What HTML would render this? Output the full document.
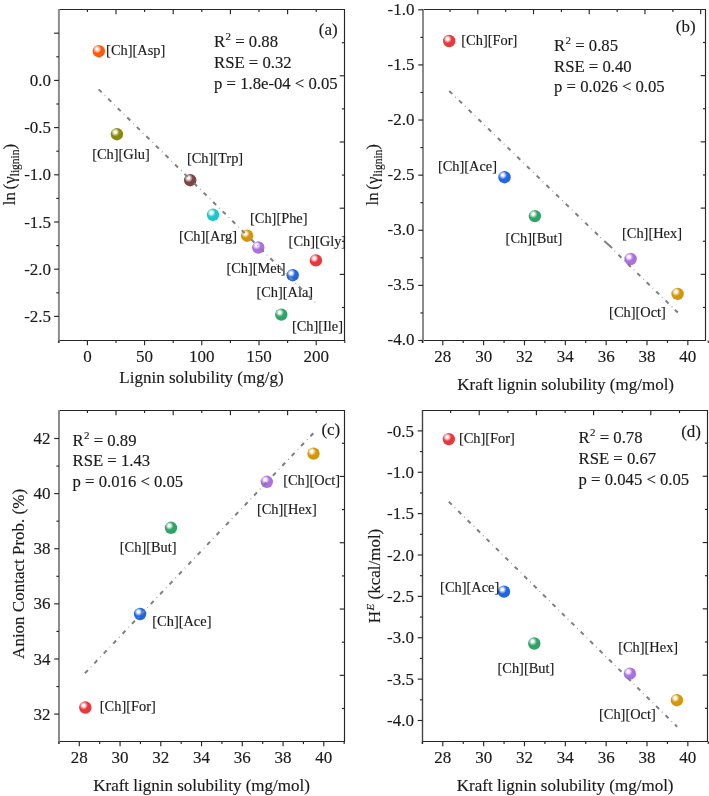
<!DOCTYPE html>
<html><head><meta charset="utf-8"><style>
html,body{margin:0;padding:0;background:#fff;}
svg{display:block;font-family:'Liberation Serif', serif;fill:#1a1a1a;will-change:transform;}
text{stroke:#1a1a1a;stroke-width:0.15;}
</style></head><body>
<svg width="709" height="796" viewBox="0 0 709 796">
<defs>
<radialGradient id="g_orange" cx="0.38" cy="0.36" r="0.75" fx="0.36" fy="0.32"><stop offset="0" stop-color="#ffffff"/><stop offset="0.12" stop-color="#ffffff"/><stop offset="0.45" stop-color="#ff5a0a"/><stop offset="1" stop-color="#ff5a0a"/></radialGradient>
<radialGradient id="g_olive" cx="0.38" cy="0.36" r="0.75" fx="0.36" fy="0.32"><stop offset="0" stop-color="#ffffff"/><stop offset="0.12" stop-color="#ffffff"/><stop offset="0.45" stop-color="#8a8a0a"/><stop offset="1" stop-color="#8a8a0a"/></radialGradient>
<radialGradient id="g_brown" cx="0.38" cy="0.36" r="0.75" fx="0.36" fy="0.32"><stop offset="0" stop-color="#ffffff"/><stop offset="0.12" stop-color="#ffffff"/><stop offset="0.45" stop-color="#7f4444"/><stop offset="1" stop-color="#7f4444"/></radialGradient>
<radialGradient id="g_cyan" cx="0.38" cy="0.36" r="0.75" fx="0.36" fy="0.32"><stop offset="0" stop-color="#ffffff"/><stop offset="0.12" stop-color="#ffffff"/><stop offset="0.45" stop-color="#1bc6cf"/><stop offset="1" stop-color="#1bc6cf"/></radialGradient>
<radialGradient id="g_gold" cx="0.38" cy="0.36" r="0.75" fx="0.36" fy="0.32"><stop offset="0" stop-color="#ffffff"/><stop offset="0.12" stop-color="#ffffff"/><stop offset="0.45" stop-color="#d4960a"/><stop offset="1" stop-color="#d4960a"/></radialGradient>
<radialGradient id="g_purple" cx="0.38" cy="0.36" r="0.75" fx="0.36" fy="0.32"><stop offset="0" stop-color="#ffffff"/><stop offset="0.12" stop-color="#ffffff"/><stop offset="0.45" stop-color="#ad6fe0"/><stop offset="1" stop-color="#ad6fe0"/></radialGradient>
<radialGradient id="g_red" cx="0.38" cy="0.36" r="0.75" fx="0.36" fy="0.32"><stop offset="0" stop-color="#ffffff"/><stop offset="0.12" stop-color="#ffffff"/><stop offset="0.45" stop-color="#e8383c"/><stop offset="1" stop-color="#e8383c"/></radialGradient>
<radialGradient id="g_blue" cx="0.38" cy="0.36" r="0.75" fx="0.36" fy="0.32"><stop offset="0" stop-color="#ffffff"/><stop offset="0.12" stop-color="#ffffff"/><stop offset="0.45" stop-color="#1f66e6"/><stop offset="1" stop-color="#1f66e6"/></radialGradient>
<radialGradient id="g_green" cx="0.38" cy="0.36" r="0.75" fx="0.36" fy="0.32"><stop offset="0" stop-color="#ffffff"/><stop offset="0.12" stop-color="#ffffff"/><stop offset="0.45" stop-color="#2fa466"/><stop offset="1" stop-color="#2fa466"/></radialGradient>
</defs>
<path d="M58.90,9.50 H344.50 V340.50 H58.90" fill="none" stroke="#262626" stroke-width="1.15"/>
<line x1="58.90" y1="8.90" x2="58.90" y2="342.70" stroke="#8c8c8c" stroke-width="2.0"/>
<line x1="54.10" y1="33.20" x2="58.90" y2="33.20" stroke="#262626" stroke-width="1.15"/>
<line x1="54.10" y1="80.40" x2="58.90" y2="80.40" stroke="#262626" stroke-width="1.15"/>
<line x1="54.10" y1="127.60" x2="58.90" y2="127.60" stroke="#262626" stroke-width="1.15"/>
<line x1="54.10" y1="174.80" x2="58.90" y2="174.80" stroke="#262626" stroke-width="1.15"/>
<line x1="54.10" y1="222.00" x2="58.90" y2="222.00" stroke="#262626" stroke-width="1.15"/>
<line x1="54.10" y1="269.20" x2="58.90" y2="269.20" stroke="#262626" stroke-width="1.15"/>
<line x1="54.10" y1="316.40" x2="58.90" y2="316.40" stroke="#262626" stroke-width="1.15"/>
<line x1="56.30" y1="56.80" x2="58.90" y2="56.80" stroke="#262626" stroke-width="1.15"/>
<line x1="56.30" y1="104.00" x2="58.90" y2="104.00" stroke="#262626" stroke-width="1.15"/>
<line x1="56.30" y1="151.20" x2="58.90" y2="151.20" stroke="#262626" stroke-width="1.15"/>
<line x1="56.30" y1="198.40" x2="58.90" y2="198.40" stroke="#262626" stroke-width="1.15"/>
<line x1="56.30" y1="245.60" x2="58.90" y2="245.60" stroke="#262626" stroke-width="1.15"/>
<line x1="56.30" y1="292.80" x2="58.90" y2="292.80" stroke="#262626" stroke-width="1.15"/>
<line x1="87.40" y1="340.50" x2="87.40" y2="345.30" stroke="#262626" stroke-width="1.15"/>
<line x1="144.60" y1="340.50" x2="144.60" y2="345.30" stroke="#262626" stroke-width="1.15"/>
<line x1="201.80" y1="340.50" x2="201.80" y2="345.30" stroke="#262626" stroke-width="1.15"/>
<line x1="259.00" y1="340.50" x2="259.00" y2="345.30" stroke="#262626" stroke-width="1.15"/>
<line x1="316.20" y1="340.50" x2="316.20" y2="345.30" stroke="#262626" stroke-width="1.15"/>
<line x1="58.80" y1="340.50" x2="58.80" y2="343.10" stroke="#262626" stroke-width="1.15"/>
<line x1="116.00" y1="340.50" x2="116.00" y2="343.10" stroke="#262626" stroke-width="1.15"/>
<line x1="173.20" y1="340.50" x2="173.20" y2="343.10" stroke="#262626" stroke-width="1.15"/>
<line x1="230.40" y1="340.50" x2="230.40" y2="343.10" stroke="#262626" stroke-width="1.15"/>
<line x1="287.60" y1="340.50" x2="287.60" y2="343.10" stroke="#262626" stroke-width="1.15"/>
<line x1="344.80" y1="340.50" x2="344.80" y2="343.10" stroke="#262626" stroke-width="1.15"/>
<line x1="116.00" y1="9.50" x2="116.00" y2="14.30" stroke="#262626" stroke-width="1.15"/>
<line x1="173.20" y1="9.50" x2="173.20" y2="14.30" stroke="#262626" stroke-width="1.15"/>
<line x1="230.40" y1="9.50" x2="230.40" y2="14.30" stroke="#262626" stroke-width="1.15"/>
<line x1="287.60" y1="9.50" x2="287.60" y2="14.30" stroke="#262626" stroke-width="1.15"/>
<line x1="87.40" y1="9.50" x2="87.40" y2="12.10" stroke="#262626" stroke-width="1.15"/>
<line x1="144.60" y1="9.50" x2="144.60" y2="12.10" stroke="#262626" stroke-width="1.15"/>
<line x1="201.80" y1="9.50" x2="201.80" y2="12.10" stroke="#262626" stroke-width="1.15"/>
<line x1="259.00" y1="9.50" x2="259.00" y2="12.10" stroke="#262626" stroke-width="1.15"/>
<line x1="316.20" y1="9.50" x2="316.20" y2="12.10" stroke="#262626" stroke-width="1.15"/>
<line x1="339.70" y1="75.80" x2="344.50" y2="75.80" stroke="#262626" stroke-width="1.15"/>
<line x1="339.70" y1="142.00" x2="344.50" y2="142.00" stroke="#262626" stroke-width="1.15"/>
<line x1="339.70" y1="208.20" x2="344.50" y2="208.20" stroke="#262626" stroke-width="1.15"/>
<line x1="339.70" y1="274.40" x2="344.50" y2="274.40" stroke="#262626" stroke-width="1.15"/>
<line x1="341.90" y1="42.70" x2="344.50" y2="42.70" stroke="#262626" stroke-width="1.15"/>
<line x1="341.90" y1="108.90" x2="344.50" y2="108.90" stroke="#262626" stroke-width="1.15"/>
<line x1="341.90" y1="175.10" x2="344.50" y2="175.10" stroke="#262626" stroke-width="1.15"/>
<line x1="341.90" y1="241.30" x2="344.50" y2="241.30" stroke="#262626" stroke-width="1.15"/>
<line x1="341.90" y1="307.50" x2="344.50" y2="307.50" stroke="#262626" stroke-width="1.15"/>
<text x="87.40" y="362.30" font-size="17" text-anchor="middle" >0</text>
<text x="144.60" y="362.30" font-size="17" text-anchor="middle" >50</text>
<text x="201.80" y="362.30" font-size="17" text-anchor="middle" >100</text>
<text x="259.00" y="362.30" font-size="17" text-anchor="middle" >150</text>
<text x="316.20" y="362.30" font-size="17" text-anchor="middle" >200</text>
<text x="51.10" y="86.00" font-size="17" text-anchor="end" >0.0</text>
<text x="51.10" y="133.20" font-size="17" text-anchor="end" >-0.5</text>
<text x="51.10" y="180.40" font-size="17" text-anchor="end" >-1.0</text>
<text x="51.10" y="227.60" font-size="17" text-anchor="end" >-1.5</text>
<text x="51.10" y="274.80" font-size="17" text-anchor="end" >-2.0</text>
<text x="51.10" y="322.00" font-size="17" text-anchor="end" >-2.5</text>
<path d="M423.00,9.50 H705.50 V340.50 H423.00" fill="none" stroke="#262626" stroke-width="1.15"/>
<line x1="423.00" y1="8.90" x2="423.00" y2="342.70" stroke="#8c8c8c" stroke-width="2.0"/>
<line x1="418.20" y1="9.80" x2="423.00" y2="9.80" stroke="#262626" stroke-width="1.15"/>
<line x1="418.20" y1="64.92" x2="423.00" y2="64.92" stroke="#262626" stroke-width="1.15"/>
<line x1="418.20" y1="120.03" x2="423.00" y2="120.03" stroke="#262626" stroke-width="1.15"/>
<line x1="418.20" y1="175.15" x2="423.00" y2="175.15" stroke="#262626" stroke-width="1.15"/>
<line x1="418.20" y1="230.26" x2="423.00" y2="230.26" stroke="#262626" stroke-width="1.15"/>
<line x1="418.20" y1="285.38" x2="423.00" y2="285.38" stroke="#262626" stroke-width="1.15"/>
<line x1="418.20" y1="340.49" x2="423.00" y2="340.49" stroke="#262626" stroke-width="1.15"/>
<line x1="420.40" y1="37.36" x2="423.00" y2="37.36" stroke="#262626" stroke-width="1.15"/>
<line x1="420.40" y1="92.47" x2="423.00" y2="92.47" stroke="#262626" stroke-width="1.15"/>
<line x1="420.40" y1="147.59" x2="423.00" y2="147.59" stroke="#262626" stroke-width="1.15"/>
<line x1="420.40" y1="202.70" x2="423.00" y2="202.70" stroke="#262626" stroke-width="1.15"/>
<line x1="420.40" y1="257.82" x2="423.00" y2="257.82" stroke="#262626" stroke-width="1.15"/>
<line x1="420.40" y1="312.93" x2="423.00" y2="312.93" stroke="#262626" stroke-width="1.15"/>
<line x1="442.80" y1="340.50" x2="442.80" y2="345.30" stroke="#262626" stroke-width="1.15"/>
<line x1="483.64" y1="340.50" x2="483.64" y2="345.30" stroke="#262626" stroke-width="1.15"/>
<line x1="524.48" y1="340.50" x2="524.48" y2="345.30" stroke="#262626" stroke-width="1.15"/>
<line x1="565.32" y1="340.50" x2="565.32" y2="345.30" stroke="#262626" stroke-width="1.15"/>
<line x1="606.16" y1="340.50" x2="606.16" y2="345.30" stroke="#262626" stroke-width="1.15"/>
<line x1="647.00" y1="340.50" x2="647.00" y2="345.30" stroke="#262626" stroke-width="1.15"/>
<line x1="687.84" y1="340.50" x2="687.84" y2="345.30" stroke="#262626" stroke-width="1.15"/>
<line x1="422.38" y1="340.50" x2="422.38" y2="343.10" stroke="#262626" stroke-width="1.15"/>
<line x1="463.22" y1="340.50" x2="463.22" y2="343.10" stroke="#262626" stroke-width="1.15"/>
<line x1="504.06" y1="340.50" x2="504.06" y2="343.10" stroke="#262626" stroke-width="1.15"/>
<line x1="544.90" y1="340.50" x2="544.90" y2="343.10" stroke="#262626" stroke-width="1.15"/>
<line x1="585.74" y1="340.50" x2="585.74" y2="343.10" stroke="#262626" stroke-width="1.15"/>
<line x1="626.58" y1="340.50" x2="626.58" y2="343.10" stroke="#262626" stroke-width="1.15"/>
<line x1="667.42" y1="340.50" x2="667.42" y2="343.10" stroke="#262626" stroke-width="1.15"/>
<line x1="708.26" y1="340.50" x2="708.26" y2="343.10" stroke="#262626" stroke-width="1.15"/>
<line x1="477.80" y1="9.50" x2="477.80" y2="14.30" stroke="#262626" stroke-width="1.15"/>
<line x1="533.52" y1="9.50" x2="533.52" y2="14.30" stroke="#262626" stroke-width="1.15"/>
<line x1="589.24" y1="9.50" x2="589.24" y2="14.30" stroke="#262626" stroke-width="1.15"/>
<line x1="644.96" y1="9.50" x2="644.96" y2="14.30" stroke="#262626" stroke-width="1.15"/>
<line x1="700.68" y1="9.50" x2="700.68" y2="14.30" stroke="#262626" stroke-width="1.15"/>
<line x1="450.00" y1="9.50" x2="450.00" y2="12.10" stroke="#262626" stroke-width="1.15"/>
<line x1="505.72" y1="9.50" x2="505.72" y2="12.10" stroke="#262626" stroke-width="1.15"/>
<line x1="561.44" y1="9.50" x2="561.44" y2="12.10" stroke="#262626" stroke-width="1.15"/>
<line x1="617.16" y1="9.50" x2="617.16" y2="12.10" stroke="#262626" stroke-width="1.15"/>
<line x1="672.88" y1="9.50" x2="672.88" y2="12.10" stroke="#262626" stroke-width="1.15"/>
<line x1="700.70" y1="75.62" x2="705.50" y2="75.62" stroke="#262626" stroke-width="1.15"/>
<line x1="700.70" y1="141.86" x2="705.50" y2="141.86" stroke="#262626" stroke-width="1.15"/>
<line x1="700.70" y1="208.10" x2="705.50" y2="208.10" stroke="#262626" stroke-width="1.15"/>
<line x1="700.70" y1="274.34" x2="705.50" y2="274.34" stroke="#262626" stroke-width="1.15"/>
<line x1="702.90" y1="42.50" x2="705.50" y2="42.50" stroke="#262626" stroke-width="1.15"/>
<line x1="702.90" y1="108.74" x2="705.50" y2="108.74" stroke="#262626" stroke-width="1.15"/>
<line x1="702.90" y1="174.98" x2="705.50" y2="174.98" stroke="#262626" stroke-width="1.15"/>
<line x1="702.90" y1="241.22" x2="705.50" y2="241.22" stroke="#262626" stroke-width="1.15"/>
<line x1="702.90" y1="307.46" x2="705.50" y2="307.46" stroke="#262626" stroke-width="1.15"/>
<text x="442.80" y="362.30" font-size="17" text-anchor="middle" >28</text>
<text x="483.64" y="362.30" font-size="17" text-anchor="middle" >30</text>
<text x="524.48" y="362.30" font-size="17" text-anchor="middle" >32</text>
<text x="565.32" y="362.30" font-size="17" text-anchor="middle" >34</text>
<text x="606.16" y="362.30" font-size="17" text-anchor="middle" >36</text>
<text x="647.00" y="362.30" font-size="17" text-anchor="middle" >38</text>
<text x="687.84" y="362.30" font-size="17" text-anchor="middle" >40</text>
<text x="414.40" y="14.80" font-size="17" text-anchor="end" >-1.0</text>
<text x="414.40" y="69.92" font-size="17" text-anchor="end" >-1.5</text>
<text x="414.40" y="125.03" font-size="17" text-anchor="end" >-2.0</text>
<text x="414.40" y="180.15" font-size="17" text-anchor="end" >-2.5</text>
<text x="414.40" y="235.26" font-size="17" text-anchor="end" >-3.0</text>
<text x="414.40" y="290.38" font-size="17" text-anchor="end" >-3.5</text>
<text x="414.40" y="345.49" font-size="17" text-anchor="end" >-4.0</text>
<path d="M59.00,410.50 H344.50 V741.50 H59.00" fill="none" stroke="#262626" stroke-width="1.15"/>
<line x1="59.00" y1="409.90" x2="59.00" y2="743.70" stroke="#8c8c8c" stroke-width="2.0"/>
<line x1="54.20" y1="714.10" x2="59.00" y2="714.10" stroke="#262626" stroke-width="1.15"/>
<line x1="54.20" y1="658.98" x2="59.00" y2="658.98" stroke="#262626" stroke-width="1.15"/>
<line x1="54.20" y1="603.86" x2="59.00" y2="603.86" stroke="#262626" stroke-width="1.15"/>
<line x1="54.20" y1="548.74" x2="59.00" y2="548.74" stroke="#262626" stroke-width="1.15"/>
<line x1="54.20" y1="493.62" x2="59.00" y2="493.62" stroke="#262626" stroke-width="1.15"/>
<line x1="54.20" y1="438.50" x2="59.00" y2="438.50" stroke="#262626" stroke-width="1.15"/>
<line x1="56.40" y1="686.54" x2="59.00" y2="686.54" stroke="#262626" stroke-width="1.15"/>
<line x1="56.40" y1="631.42" x2="59.00" y2="631.42" stroke="#262626" stroke-width="1.15"/>
<line x1="56.40" y1="576.30" x2="59.00" y2="576.30" stroke="#262626" stroke-width="1.15"/>
<line x1="56.40" y1="521.18" x2="59.00" y2="521.18" stroke="#262626" stroke-width="1.15"/>
<line x1="56.40" y1="466.06" x2="59.00" y2="466.06" stroke="#262626" stroke-width="1.15"/>
<line x1="79.30" y1="741.50" x2="79.30" y2="746.30" stroke="#262626" stroke-width="1.15"/>
<line x1="120.05" y1="741.50" x2="120.05" y2="746.30" stroke="#262626" stroke-width="1.15"/>
<line x1="160.80" y1="741.50" x2="160.80" y2="746.30" stroke="#262626" stroke-width="1.15"/>
<line x1="201.55" y1="741.50" x2="201.55" y2="746.30" stroke="#262626" stroke-width="1.15"/>
<line x1="242.30" y1="741.50" x2="242.30" y2="746.30" stroke="#262626" stroke-width="1.15"/>
<line x1="283.05" y1="741.50" x2="283.05" y2="746.30" stroke="#262626" stroke-width="1.15"/>
<line x1="323.80" y1="741.50" x2="323.80" y2="746.30" stroke="#262626" stroke-width="1.15"/>
<line x1="58.92" y1="741.50" x2="58.92" y2="744.10" stroke="#262626" stroke-width="1.15"/>
<line x1="99.67" y1="741.50" x2="99.67" y2="744.10" stroke="#262626" stroke-width="1.15"/>
<line x1="140.43" y1="741.50" x2="140.43" y2="744.10" stroke="#262626" stroke-width="1.15"/>
<line x1="181.18" y1="741.50" x2="181.18" y2="744.10" stroke="#262626" stroke-width="1.15"/>
<line x1="221.93" y1="741.50" x2="221.93" y2="744.10" stroke="#262626" stroke-width="1.15"/>
<line x1="262.68" y1="741.50" x2="262.68" y2="744.10" stroke="#262626" stroke-width="1.15"/>
<line x1="303.43" y1="741.50" x2="303.43" y2="744.10" stroke="#262626" stroke-width="1.15"/>
<line x1="344.18" y1="741.50" x2="344.18" y2="744.10" stroke="#262626" stroke-width="1.15"/>
<line x1="116.00" y1="410.50" x2="116.00" y2="415.30" stroke="#262626" stroke-width="1.15"/>
<line x1="173.20" y1="410.50" x2="173.20" y2="415.30" stroke="#262626" stroke-width="1.15"/>
<line x1="230.40" y1="410.50" x2="230.40" y2="415.30" stroke="#262626" stroke-width="1.15"/>
<line x1="287.60" y1="410.50" x2="287.60" y2="415.30" stroke="#262626" stroke-width="1.15"/>
<line x1="87.40" y1="410.50" x2="87.40" y2="413.10" stroke="#262626" stroke-width="1.15"/>
<line x1="144.60" y1="410.50" x2="144.60" y2="413.10" stroke="#262626" stroke-width="1.15"/>
<line x1="201.80" y1="410.50" x2="201.80" y2="413.10" stroke="#262626" stroke-width="1.15"/>
<line x1="259.00" y1="410.50" x2="259.00" y2="413.10" stroke="#262626" stroke-width="1.15"/>
<line x1="316.20" y1="410.50" x2="316.20" y2="413.10" stroke="#262626" stroke-width="1.15"/>
<line x1="339.70" y1="476.45" x2="344.50" y2="476.45" stroke="#262626" stroke-width="1.15"/>
<line x1="339.70" y1="542.75" x2="344.50" y2="542.75" stroke="#262626" stroke-width="1.15"/>
<line x1="339.70" y1="609.05" x2="344.50" y2="609.05" stroke="#262626" stroke-width="1.15"/>
<line x1="339.70" y1="675.35" x2="344.50" y2="675.35" stroke="#262626" stroke-width="1.15"/>
<line x1="341.90" y1="443.30" x2="344.50" y2="443.30" stroke="#262626" stroke-width="1.15"/>
<line x1="341.90" y1="509.60" x2="344.50" y2="509.60" stroke="#262626" stroke-width="1.15"/>
<line x1="341.90" y1="575.90" x2="344.50" y2="575.90" stroke="#262626" stroke-width="1.15"/>
<line x1="341.90" y1="642.20" x2="344.50" y2="642.20" stroke="#262626" stroke-width="1.15"/>
<line x1="341.90" y1="708.50" x2="344.50" y2="708.50" stroke="#262626" stroke-width="1.15"/>
<text x="79.30" y="763.10" font-size="17" text-anchor="middle" >28</text>
<text x="120.05" y="763.10" font-size="17" text-anchor="middle" >30</text>
<text x="160.80" y="763.10" font-size="17" text-anchor="middle" >32</text>
<text x="201.55" y="763.10" font-size="17" text-anchor="middle" >34</text>
<text x="242.30" y="763.10" font-size="17" text-anchor="middle" >36</text>
<text x="283.05" y="763.10" font-size="17" text-anchor="middle" >38</text>
<text x="323.80" y="763.10" font-size="17" text-anchor="middle" >40</text>
<text x="50.50" y="719.70" font-size="17" text-anchor="end" >32</text>
<text x="50.50" y="664.58" font-size="17" text-anchor="end" >34</text>
<text x="50.50" y="609.46" font-size="17" text-anchor="end" >36</text>
<text x="50.50" y="554.34" font-size="17" text-anchor="end" >38</text>
<text x="50.50" y="499.22" font-size="17" text-anchor="end" >40</text>
<text x="50.50" y="444.10" font-size="17" text-anchor="end" >42</text>
<path d="M422.50,410.50 H707.50 V741.50 H422.50" fill="none" stroke="#262626" stroke-width="1.15"/>
<line x1="422.50" y1="409.90" x2="422.50" y2="743.70" stroke="#444" stroke-width="1.4"/>
<line x1="417.70" y1="430.90" x2="422.50" y2="430.90" stroke="#262626" stroke-width="1.15"/>
<line x1="417.70" y1="472.27" x2="422.50" y2="472.27" stroke="#262626" stroke-width="1.15"/>
<line x1="417.70" y1="513.64" x2="422.50" y2="513.64" stroke="#262626" stroke-width="1.15"/>
<line x1="417.70" y1="555.01" x2="422.50" y2="555.01" stroke="#262626" stroke-width="1.15"/>
<line x1="417.70" y1="596.38" x2="422.50" y2="596.38" stroke="#262626" stroke-width="1.15"/>
<line x1="417.70" y1="637.75" x2="422.50" y2="637.75" stroke="#262626" stroke-width="1.15"/>
<line x1="417.70" y1="679.12" x2="422.50" y2="679.12" stroke="#262626" stroke-width="1.15"/>
<line x1="417.70" y1="720.49" x2="422.50" y2="720.49" stroke="#262626" stroke-width="1.15"/>
<line x1="419.90" y1="451.58" x2="422.50" y2="451.58" stroke="#262626" stroke-width="1.15"/>
<line x1="419.90" y1="492.95" x2="422.50" y2="492.95" stroke="#262626" stroke-width="1.15"/>
<line x1="419.90" y1="534.32" x2="422.50" y2="534.32" stroke="#262626" stroke-width="1.15"/>
<line x1="419.90" y1="575.69" x2="422.50" y2="575.69" stroke="#262626" stroke-width="1.15"/>
<line x1="419.90" y1="617.06" x2="422.50" y2="617.06" stroke="#262626" stroke-width="1.15"/>
<line x1="419.90" y1="658.43" x2="422.50" y2="658.43" stroke="#262626" stroke-width="1.15"/>
<line x1="419.90" y1="699.80" x2="422.50" y2="699.80" stroke="#262626" stroke-width="1.15"/>
<line x1="442.80" y1="741.50" x2="442.80" y2="746.30" stroke="#262626" stroke-width="1.15"/>
<line x1="483.64" y1="741.50" x2="483.64" y2="746.30" stroke="#262626" stroke-width="1.15"/>
<line x1="524.48" y1="741.50" x2="524.48" y2="746.30" stroke="#262626" stroke-width="1.15"/>
<line x1="565.32" y1="741.50" x2="565.32" y2="746.30" stroke="#262626" stroke-width="1.15"/>
<line x1="606.16" y1="741.50" x2="606.16" y2="746.30" stroke="#262626" stroke-width="1.15"/>
<line x1="647.00" y1="741.50" x2="647.00" y2="746.30" stroke="#262626" stroke-width="1.15"/>
<line x1="687.84" y1="741.50" x2="687.84" y2="746.30" stroke="#262626" stroke-width="1.15"/>
<line x1="422.38" y1="741.50" x2="422.38" y2="744.10" stroke="#262626" stroke-width="1.15"/>
<line x1="463.22" y1="741.50" x2="463.22" y2="744.10" stroke="#262626" stroke-width="1.15"/>
<line x1="504.06" y1="741.50" x2="504.06" y2="744.10" stroke="#262626" stroke-width="1.15"/>
<line x1="544.90" y1="741.50" x2="544.90" y2="744.10" stroke="#262626" stroke-width="1.15"/>
<line x1="585.74" y1="741.50" x2="585.74" y2="744.10" stroke="#262626" stroke-width="1.15"/>
<line x1="626.58" y1="741.50" x2="626.58" y2="744.10" stroke="#262626" stroke-width="1.15"/>
<line x1="667.42" y1="741.50" x2="667.42" y2="744.10" stroke="#262626" stroke-width="1.15"/>
<line x1="708.26" y1="741.50" x2="708.26" y2="744.10" stroke="#262626" stroke-width="1.15"/>
<line x1="479.20" y1="410.50" x2="479.20" y2="415.30" stroke="#262626" stroke-width="1.15"/>
<line x1="536.40" y1="410.50" x2="536.40" y2="415.30" stroke="#262626" stroke-width="1.15"/>
<line x1="593.60" y1="410.50" x2="593.60" y2="415.30" stroke="#262626" stroke-width="1.15"/>
<line x1="650.80" y1="410.50" x2="650.80" y2="415.30" stroke="#262626" stroke-width="1.15"/>
<line x1="450.70" y1="410.50" x2="450.70" y2="413.10" stroke="#262626" stroke-width="1.15"/>
<line x1="507.90" y1="410.50" x2="507.90" y2="413.10" stroke="#262626" stroke-width="1.15"/>
<line x1="565.10" y1="410.50" x2="565.10" y2="413.10" stroke="#262626" stroke-width="1.15"/>
<line x1="622.30" y1="410.50" x2="622.30" y2="413.10" stroke="#262626" stroke-width="1.15"/>
<line x1="679.50" y1="410.50" x2="679.50" y2="413.10" stroke="#262626" stroke-width="1.15"/>
<line x1="702.70" y1="476.25" x2="707.50" y2="476.25" stroke="#262626" stroke-width="1.15"/>
<line x1="702.70" y1="542.55" x2="707.50" y2="542.55" stroke="#262626" stroke-width="1.15"/>
<line x1="702.70" y1="608.85" x2="707.50" y2="608.85" stroke="#262626" stroke-width="1.15"/>
<line x1="702.70" y1="675.15" x2="707.50" y2="675.15" stroke="#262626" stroke-width="1.15"/>
<line x1="704.90" y1="443.10" x2="707.50" y2="443.10" stroke="#262626" stroke-width="1.15"/>
<line x1="704.90" y1="509.40" x2="707.50" y2="509.40" stroke="#262626" stroke-width="1.15"/>
<line x1="704.90" y1="575.70" x2="707.50" y2="575.70" stroke="#262626" stroke-width="1.15"/>
<line x1="704.90" y1="642.00" x2="707.50" y2="642.00" stroke="#262626" stroke-width="1.15"/>
<line x1="704.90" y1="708.30" x2="707.50" y2="708.30" stroke="#262626" stroke-width="1.15"/>
<text x="442.80" y="763.10" font-size="17" text-anchor="middle" >28</text>
<text x="483.64" y="763.10" font-size="17" text-anchor="middle" >30</text>
<text x="524.48" y="763.10" font-size="17" text-anchor="middle" >32</text>
<text x="565.32" y="763.10" font-size="17" text-anchor="middle" >34</text>
<text x="606.16" y="763.10" font-size="17" text-anchor="middle" >36</text>
<text x="647.00" y="763.10" font-size="17" text-anchor="middle" >38</text>
<text x="687.84" y="763.10" font-size="17" text-anchor="middle" >40</text>
<text x="414.00" y="436.50" font-size="17" text-anchor="end" >-0.5</text>
<text x="414.00" y="477.87" font-size="17" text-anchor="end" >-1.0</text>
<text x="414.00" y="519.24" font-size="17" text-anchor="end" >-1.5</text>
<text x="414.00" y="560.61" font-size="17" text-anchor="end" >-2.0</text>
<text x="414.00" y="601.98" font-size="17" text-anchor="end" >-2.5</text>
<text x="414.00" y="643.35" font-size="17" text-anchor="end" >-3.0</text>
<text x="414.00" y="684.72" font-size="17" text-anchor="end" >-3.5</text>
<text x="414.00" y="726.09" font-size="17" text-anchor="end" >-4.0</text>
<circle cx="98.80" cy="51.20" r="6.2" fill="url(#g_orange)"/>
<circle cx="116.90" cy="134.20" r="6.2" fill="url(#g_olive)"/>
<circle cx="190.20" cy="180.20" r="6.2" fill="url(#g_brown)"/>
<circle cx="213.00" cy="214.80" r="6.2" fill="url(#g_cyan)"/>
<circle cx="247.10" cy="235.70" r="6.2" fill="url(#g_gold)"/>
<circle cx="258.30" cy="247.50" r="6.2" fill="url(#g_purple)"/>
<circle cx="315.90" cy="260.40" r="6.2" fill="url(#g_red)"/>
<circle cx="292.70" cy="275.20" r="6.2" fill="url(#g_blue)"/>
<circle cx="281.30" cy="314.60" r="6.2" fill="url(#g_green)"/>
<circle cx="449.20" cy="41.00" r="6.2" fill="url(#g_red)"/>
<circle cx="504.50" cy="177.20" r="6.2" fill="url(#g_blue)"/>
<circle cx="534.90" cy="216.10" r="6.2" fill="url(#g_green)"/>
<circle cx="630.60" cy="259.00" r="6.2" fill="url(#g_purple)"/>
<circle cx="677.60" cy="293.90" r="6.2" fill="url(#g_gold)"/>
<circle cx="85.30" cy="707.50" r="6.2" fill="url(#g_red)"/>
<circle cx="140.10" cy="614.00" r="6.2" fill="url(#g_blue)"/>
<circle cx="171.00" cy="527.80" r="6.2" fill="url(#g_green)"/>
<circle cx="266.80" cy="481.80" r="6.2" fill="url(#g_purple)"/>
<circle cx="313.50" cy="453.60" r="6.2" fill="url(#g_gold)"/>
<circle cx="448.80" cy="439.10" r="6.2" fill="url(#g_red)"/>
<circle cx="504.00" cy="591.60" r="6.2" fill="url(#g_blue)"/>
<circle cx="534.30" cy="643.50" r="6.2" fill="url(#g_green)"/>
<circle cx="629.90" cy="673.70" r="6.2" fill="url(#g_purple)"/>
<circle cx="676.90" cy="700.20" r="6.2" fill="url(#g_gold)"/>
<text x="106.10" y="54.50" font-size="14.4" text-anchor="start" >[Ch][Asp]</text>
<text x="92.20" y="159.05" font-size="14.4" text-anchor="start" >[Ch][Glu]</text>
<text x="186.90" y="163.45" font-size="14.4" text-anchor="start" >[Ch][Trp]</text>
<text x="250.00" y="222.70" font-size="14.4" text-anchor="start" >[Ch][Phe]</text>
<text x="178.90" y="240.60" font-size="14.4" text-anchor="start" >[Ch][Arg]</text>
<text x="288.60" y="245.60" font-size="14.4" text-anchor="start" >[Ch][Gly]</text>
<text x="226.40" y="272.90" font-size="14.4" text-anchor="start" >[Ch][Met]</text>
<text x="256.40" y="296.60" font-size="14.4" text-anchor="start" >[Ch][Ala]</text>
<text x="291.90" y="331.10" font-size="14.4" text-anchor="start" >[Ch][Ile]</text>
<text x="461.30" y="45.45" font-size="14.4" text-anchor="start" >[Ch][For]</text>
<text x="437.90" y="171.05" font-size="14.4" text-anchor="start" >[Ch][Ace]</text>
<text x="505.60" y="243.25" font-size="14.4" text-anchor="start" >[Ch][But]</text>
<text x="622.00" y="237.75" font-size="14.4" text-anchor="start" >[Ch][Hex]</text>
<text x="609.10" y="317.30" font-size="14.4" text-anchor="start" >[Ch][Oct]</text>
<text x="119.80" y="552.30" font-size="14.4" text-anchor="start" >[Ch][But]</text>
<text x="152.30" y="626.35" font-size="14.4" text-anchor="start" >[Ch][Ace]</text>
<text x="99.80" y="711.35" font-size="14.4" text-anchor="start" >[Ch][For]</text>
<text x="283.20" y="484.60" font-size="14.4" text-anchor="start" >[Ch][Oct]</text>
<text x="256.90" y="514.30" font-size="14.4" text-anchor="start" >[Ch][Hex]</text>
<text x="458.90" y="442.90" font-size="14.4" text-anchor="start" >[Ch][For]</text>
<text x="440.10" y="592.15" font-size="14.4" text-anchor="start" >[Ch][Ace]</text>
<text x="497.50" y="672.80" font-size="14.4" text-anchor="start" >[Ch][But]</text>
<text x="618.20" y="652.05" font-size="14.4" text-anchor="start" >[Ch][Hex]</text>
<text x="599.00" y="718.95" font-size="14.4" text-anchor="start" >[Ch][Oct]</text>
<line x1="98.70" y1="89.40" x2="315.20" y2="302.40" stroke="#808080" stroke-width="2" stroke-dasharray="4.2 9.180"/>
<line x1="98.70" y1="89.40" x2="315.20" y2="302.40" stroke="#9a9a9a" stroke-width="1.4" stroke-dasharray="0.8 12.580" stroke-dashoffset="4.990"/>
<path d="M449.25,90.94L452.27,93.86M458.96,100.35L461.98,103.27M468.67,109.76L471.69,112.68M478.38,119.17L481.40,122.09M488.09,128.58L491.11,131.50M497.80,137.99L500.82,140.91M507.51,147.40L510.53,150.32M517.22,156.81L520.24,159.73M526.93,166.22L529.95,169.14M536.64,175.63L539.66,178.55M546.35,185.04L549.37,187.96M556.06,194.45L559.08,197.37M565.77,203.86L568.79,206.78M575.48,213.27L578.50,216.19M585.19,222.68L588.21,225.60M594.90,232.09L597.92,235.01M618.39,254.84L621.41,257.76M627.82,263.99L630.84,266.91M637.25,273.14L640.27,276.06M646.68,282.29L649.70,285.21M656.11,291.44L659.13,294.36M665.54,300.59L668.56,303.51M604.30,241.10L612.10,248.00M674.80,309.90L677.90,312.40" stroke="#808080" stroke-width="2" fill="none"/>
<path d="M455.33,96.83L455.90,97.38M465.04,106.24L465.61,106.79M474.75,115.65L475.32,116.20M484.46,125.06L485.03,125.61M494.17,134.47L494.74,135.02M503.88,143.88L504.45,144.43M513.59,153.29L514.16,153.84M523.30,162.70L523.87,163.25M533.01,172.11L533.58,172.66M542.72,181.52L543.29,182.07M552.43,190.93L553.00,191.48M562.14,200.34L562.71,200.89M571.85,209.75L572.42,210.30M581.56,219.16L582.13,219.71M591.27,228.57L591.84,229.12M600.31,237.22L600.89,237.78M614.61,250.92L615.19,251.48M624.33,260.60L624.90,261.15M633.76,269.75L634.33,270.30M643.19,278.90L643.76,279.45M652.62,288.05L653.19,288.60M662.05,297.20L662.62,297.75M671.71,306.52L672.29,307.08" stroke="#9a9a9a" stroke-width="1.4" fill="none"/>
<line x1="85.00" y1="673.20" x2="313.30" y2="433.20" stroke="#808080" stroke-width="2" stroke-dasharray="4.2 9.430"/>
<line x1="85.00" y1="673.20" x2="313.30" y2="433.20" stroke="#9a9a9a" stroke-width="1.4" stroke-dasharray="0.8 12.830" stroke-dashoffset="5.115"/>
<line x1="448.80" y1="501.70" x2="677.20" y2="726.80" stroke="#808080" stroke-width="2" stroke-dasharray="4.2 9.030"/>
<line x1="448.80" y1="501.70" x2="677.20" y2="726.80" stroke="#9a9a9a" stroke-width="1.4" stroke-dasharray="0.8 12.430" stroke-dashoffset="4.915"/>
<text x="214.10" y="46.80" font-size="16.7">R<tspan font-size="11" dy="-6.5" dx="0.3">2</tspan><tspan dy="6.5"> = 0.88</tspan></text>
<text x="214.10" y="67.50" font-size="16.7" text-anchor="start" >RSE = 0.32</text>
<text x="214.10" y="88.80" font-size="16.7" text-anchor="start" >p = 1.8e-04 &lt; 0.05</text>
<text x="554.10" y="50.70" font-size="16.7">R<tspan font-size="11" dy="-6.5" dx="0.3">2</tspan><tspan dy="6.5"> = 0.85</tspan></text>
<text x="554.10" y="71.90" font-size="16.7" text-anchor="start" >RSE = 0.40</text>
<text x="554.10" y="91.80" font-size="16.7" text-anchor="start" >p = 0.026 &lt; 0.05</text>
<text x="72.60" y="445.70" font-size="16.7">R<tspan font-size="11" dy="-6.5" dx="0.3">2</tspan><tspan dy="6.5"> = 0.89</tspan></text>
<text x="72.60" y="466.40" font-size="16.7" text-anchor="start" >RSE = 1.43</text>
<text x="72.60" y="487.10" font-size="16.7" text-anchor="start" >p = 0.016 &lt; 0.05</text>
<text x="578.60" y="442.60" font-size="16.7">R<tspan font-size="11" dy="-6.5" dx="0.3">2</tspan><tspan dy="6.5"> = 0.78</tspan></text>
<text x="578.60" y="463.50" font-size="16.7" text-anchor="start" >RSE = 0.67</text>
<text x="578.60" y="484.50" font-size="16.7" text-anchor="start" >p = 0.045 &lt; 0.05</text>
<text x="318.80" y="34.90" font-size="17" text-anchor="start" >(a)</text>
<text x="675.80" y="32.20" font-size="17" text-anchor="start" >(b)</text>
<text x="321.40" y="434.60" font-size="17" text-anchor="start" >(c)</text>
<text x="681.20" y="437.00" font-size="17" text-anchor="start" >(d)</text>
<text x="119.30" y="382.80" font-size="17" text-anchor="start" >Lignin solubility (mg/g)</text>
<text x="457.30" y="389.80" font-size="17" text-anchor="start" >Kraft lignin solubility (mg/mol)</text>
<text x="93.20" y="790.80" font-size="17" text-anchor="start" >Kraft lignin solubility (mg/mol)</text>
<text x="456.80" y="790.80" font-size="17" text-anchor="start" >Kraft lignin solubility (mg/mol)</text>
<text transform="translate(14.70,205.20) rotate(-90)" x="0" y="0" font-size="17">ln<tspan dx="2.5">(</tspan>γ<tspan font-size="11.5" dy="4.4">lignin</tspan><tspan dy="-4.4">)</tspan></text>
<text transform="translate(377.70,205.40) rotate(-90)" x="0" y="0" font-size="17">ln<tspan dx="2.5">(</tspan>γ<tspan font-size="11.5" dy="4.4">lignin</tspan><tspan dy="-4.4">)</tspan></text>
<text transform="translate(23.60,658.90) rotate(-90)" x="0" y="0" font-size="17">Anion Contact Prob. (%)</text>
<text transform="translate(380.30,623.30) rotate(-90)" x="0" y="0" font-size="17">H<tspan font-size="11" dy="-6" dx="0.5" font-style="italic">E</tspan><tspan dy="6"> (kcal/mol)</tspan></text>
</svg></body></html>
